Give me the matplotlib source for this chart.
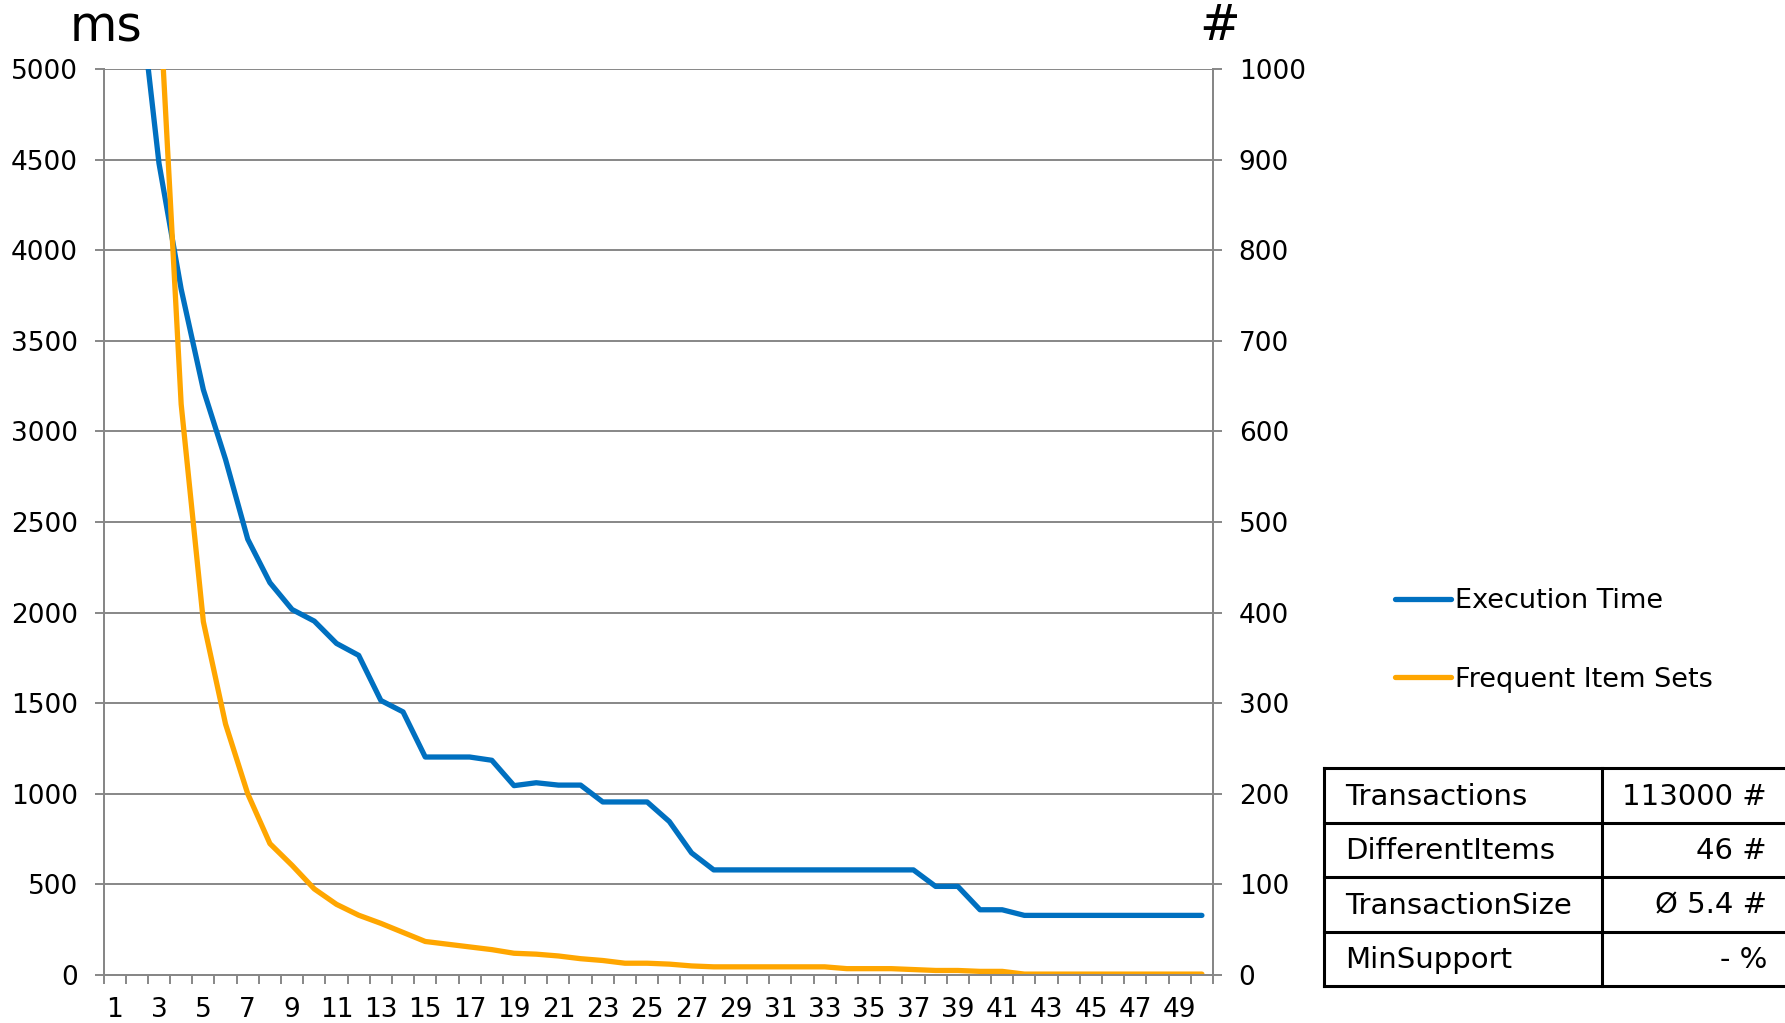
import matplotlib
matplotlib.use("Agg")
import matplotlib.pyplot as plt
from matplotlib.lines import Line2D

# ── Data ───────────────────────────────────────────────────────────────────
steps = list(range(1, 51))
step_labels = [str(s) for s in range(1, 51, 2)]

# execution time in ms (left axis); first points run off the top of the chart
exec_time_ms = [
    7000, 5560, 4480, 3785, 3230, 2845, 2405, 2165, 2017, 1953,
    1830, 1764, 1515, 1452, 1203, 1203, 1203, 1185, 1045, 1061,
    1048, 1048, 955, 955, 955, 847, 674, 580, 580, 580,
    580, 580, 580, 580, 580, 580, 580, 489, 489, 360,
    360, 329, 329, 329, 329, 329, 329, 329, 329, 329,
]

# number of frequent item sets (right axis)
freq_item_sets = [
    3000, 1800, 1090, 630, 390, 277, 200, 145, 121, 95,
    78, 66, 57, 47, 37, 34, 31, 28, 24, 23,
    21, 18, 16, 13, 13, 12, 10, 9, 9, 9,
    9, 9, 9, 7, 7, 7, 6, 5, 5, 4,
    4, 1, 1, 1, 1, 1, 1, 1, 1, 1,
]

table_keys = ["Transactions", "DifferentItems", "TransactionSize", "MinSupport"]
table_vals = ["113000 #", "46 #", "\u00d8 5.4 #", "- %"]

# ── Style ──────────────────────────────────────────────────────────────────
plt.rcParams["font.family"] = "DejaVu Sans"
BLUE = "#0070C0"
ORANGE = "#FFA600"
GRID = "#878787"
W, H = 1785, 1023

fig = plt.figure(figsize=(W / 100, H / 100), dpi=100)
ax = fig.add_axes([103.5 / W, 1 - 975 / H, (1213 - 103.5) / W, (975 - 69) / H])
ax2 = ax.twinx()

ax.plot(steps, exec_time_ms, color=BLUE, lw=3.8, solid_joinstyle="round",
        solid_capstyle="round", label="Execution Time")
ax2.plot(steps, freq_item_sets, color=ORANGE, lw=3.8, solid_joinstyle="round",
         solid_capstyle="round", label="Frequent Item Sets")

ax.set_xlim(0.5, 50.5)
ax.set_ylim(0, 5000)
ax2.set_ylim(0, 1000)
ax.set_yticks(range(0, 5001, 500))
ax2.set_yticks(range(0, 1001, 100))

# x ticks: marks between categories, labels on odd categories
ax.set_xticks([s + 0.5 for s in range(0, 51)])
ax.set_xticklabels([])
ax.set_xticks(list(range(1, 51, 2)), minor=True)
ax.set_xticklabels(step_labels, minor=True)
ax.tick_params(axis="x", which="major", length=6.5, width=1.4, color=GRID, direction="out")
ax.tick_params(axis="x", which="minor", length=0, pad=16, labelsize=19)

ax.tick_params(axis="y", length=6.5, width=1.4, color=GRID, pad=12, labelsize=19)
ax2.tick_params(axis="y", length=6.5, width=1.4, color=GRID, pad=12, labelsize=19)

ax.grid(axis="y", color=GRID, lw=1.4)
ax.set_axisbelow(True)
for a in (ax, ax2):
    a.spines["top"].set_visible(False)
    for side in ("left", "right", "bottom"):
        a.spines[side].set_color(GRID)
        a.spines[side].set_linewidth(1.4)

fig.text(106 / W, 1 - 42 / H, "ms", ha="center", va="baseline", fontsize=35)
fig.text(1220 / W, 1 - 40 / H, "#", ha="center", va="baseline", fontsize=35)

# legend
handles = [Line2D([], [], color=BLUE, lw=3.8, solid_capstyle="round"),
           Line2D([], [], color=ORANGE, lw=3.8, solid_capstyle="round")]
fig.legend(handles, ["Execution Time", "Frequent Item Sets"],
           loc="upper left", bbox_to_anchor=(1395 / W, 1 - 588 / H),
           frameon=False, fontsize=19.5, borderpad=0, borderaxespad=0,
           handlelength=2.05, handletextpad=0.15, labelspacing=1.95)

# ── Info table ──
tx0, tx1 = 1324, 1800
ty0, ty1 = 768, 986
tax = fig.add_axes([tx0 / W, 1 - ty1 / H, (tx1 - tx0) / W, (ty1 - ty0) / H])
tax.set_xlim(0, tx1 - tx0)
tax.set_ylim(len(table_keys), 0)
tax.axis("off")
div = 1602 - tx0
for r in range(len(table_keys) + 1):
    tax.plot([0, tx1 - tx0], [r, r], color="black", lw=2.2, clip_on=False,
             solid_capstyle="projecting")
tax.plot([0, 0], [0, len(table_keys)], color="black", lw=2.2, clip_on=False)
tax.plot([div, div], [0, len(table_keys)], color="black", lw=2.2, clip_on=False)
for r, (k, v) in enumerate(zip(table_keys, table_vals)):
    tax.text(1345 - tx0, r + 0.53, k, ha="left", va="center", fontsize=21)
    tax.text(1767 - tx0, r + 0.53, v, ha="right", va="center", fontsize=21)

fig.savefig("out.png", dpi=100)
